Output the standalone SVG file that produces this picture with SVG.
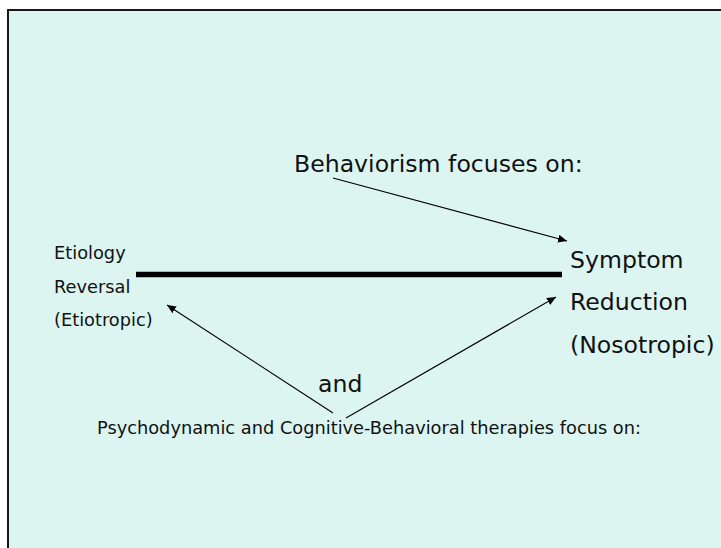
<svg xmlns="http://www.w3.org/2000/svg" width="721" height="548" viewBox="0 0 721 548">
<style>
.big{font-family:"DejaVu Sans",Verdana,sans-serif;font-size:23.6px;fill:#111}
.sm{font-family:"DejaVu Sans",Verdana,sans-serif;font-size:17.8px;fill:#111}
.conn{stroke:#000;stroke-width:1.1;fill:none}
</style>
<defs>
<marker id="ah" markerWidth="10" markerHeight="8" refX="9" refY="4" orient="auto" markerUnits="userSpaceOnUse">
<path d="M0,0 L9,4 L0,8 z" fill="#000"/>
</marker>
</defs>
<rect x="0" y="0" width="721" height="548" fill="#ffffff"/>
<rect x="8" y="10" width="730" height="560" fill="#DCF5F1" stroke="#000" stroke-width="1.8"/>
<g id="behaviorism"><text class="big" x="294" y="172">Behaviorism focuses on:</text></g>
<g id="etiology">
<text class="sm" x="54" y="259">Etiology</text>
<text class="sm" x="54" y="292.5">Reversal</text>
<text class="sm" x="54" y="326">(Etiotropic)</text>
</g>
<g id="symptom">
<text class="big" x="570" y="268">Symptom</text>
<text class="big" x="570" y="310">Reduction</text>
<text class="big" x="570" y="353">(Nosotropic)</text>
</g>
<g id="and"><text class="big" x="318" y="392">and</text></g>
<g id="psychodynamic"><text class="sm" x="97" y="434">Psychodynamic and Cognitive-Behavioral therapies focus on:</text></g>
<g id="connectors">
<line x1="136" y1="274.5" x2="562" y2="274.5" stroke="#000" stroke-width="5.5"/>
<line class="conn" x1="333" y1="178" x2="567" y2="241" marker-end="url(#ah)"/>
<line class="conn" x1="333" y1="413" x2="167" y2="305" marker-end="url(#ah)"/>
<line class="conn" x1="346" y1="418" x2="556" y2="297" marker-end="url(#ah)"/>
</g>
</svg>
